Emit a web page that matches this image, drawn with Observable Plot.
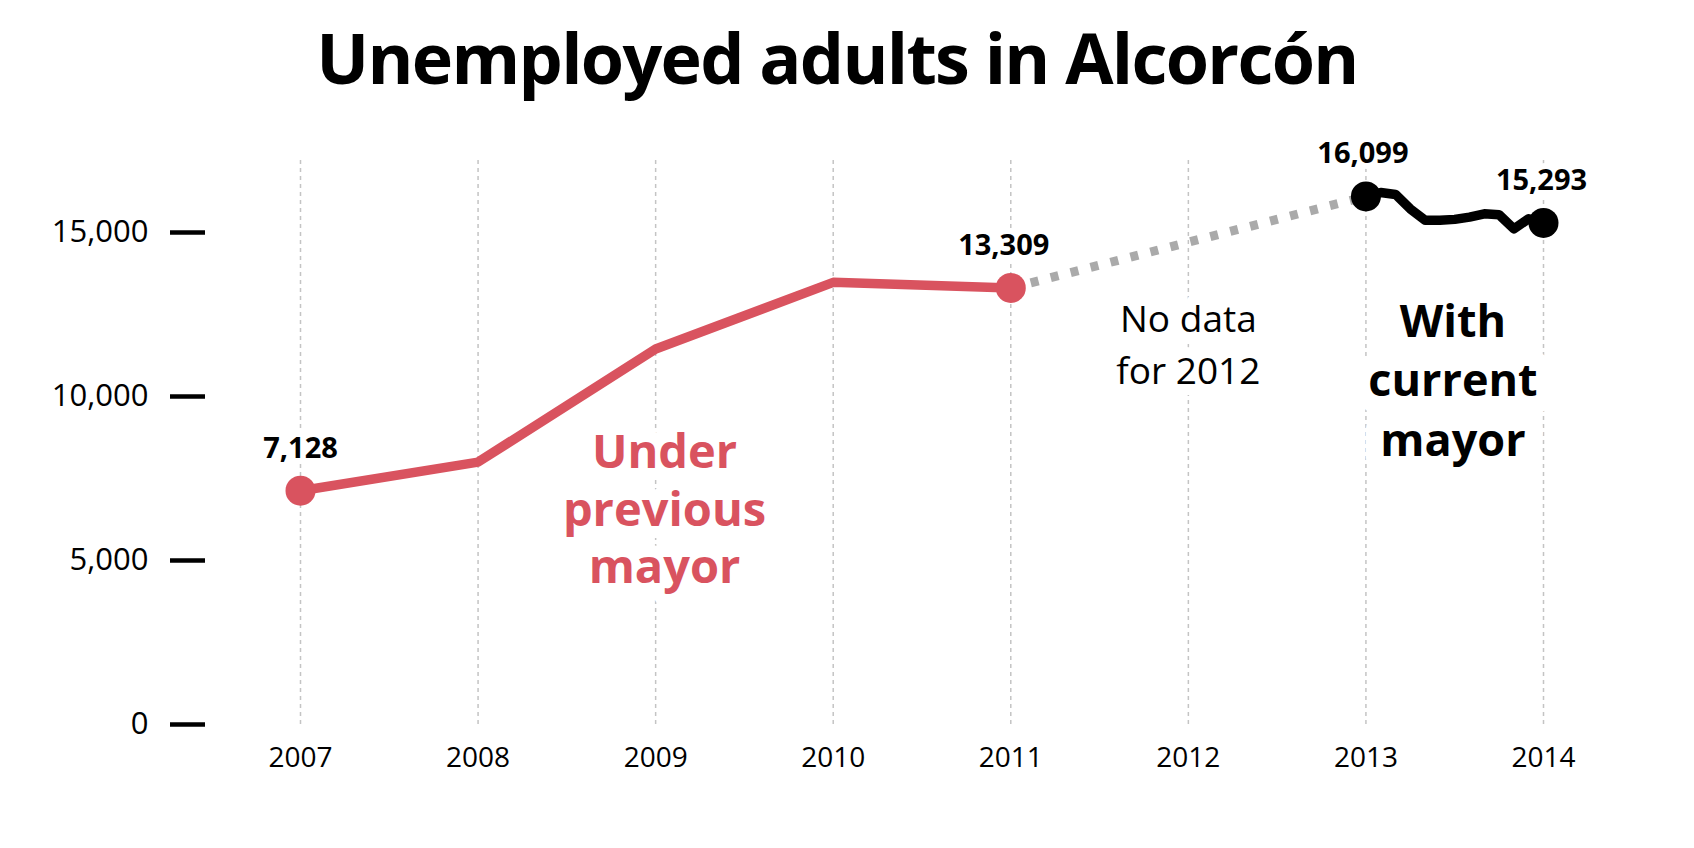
<!DOCTYPE html>
<html>
<head>
<meta charset="utf-8">
<script src="https://cdn.jsdelivr.net/npm/d3@7"></script>
<script src="https://cdn.jsdelivr.net/npm/@observablehq/plot@0.6"></script>
<style>
  body { margin: 0; background: #fff; font-family: "Open Sans", sans-serif; }
  #title {
    height: 120px; box-sizing: border-box; padding-top: 22px; width: 1674px;
    text-align: center; font-size: 70px; line-height: 70px; font-weight: 700;
    letter-spacing: -1.7px; color: #000; white-space: nowrap;
  }
</style>
</head>
<body>
<div id="title">Unemployed adults in Alcorcón</div>
<div id="chart"></div>
<script>
// ---- data ----
const yearTicks = [2007, 2008, 2009, 2010, 2011, 2012, 2013, 2014];
const yTicks = [0, 5000, 10000, 15000];

// Under previous mayor (yearly)
const previousYears = [2007, 2008, 2009, 2010, 2011];
const previousValues = [7128, 8000, 11450, 13480, 13309];

// With current mayor (monthly, Jan 2013 .. Jan 2014)
const currentMonths = [0, 1, 2, 3, 4, 5, 6, 7, 8, 9, 10, 11, 12];
const currentValues = [16099, 16220, 16160, 15720, 15370, 15370, 15400, 15470, 15570, 15540, 15110, 15420, 15293];

const annotationPrevious = "Under\nprevious\nmayor";
const annotationNoData = "No data\nfor 2012";
const annotationCurrent = "With\ncurrent\nmayor";

// ---- derived tables ----
const previous = previousYears.map((x, i) => ({x, y: previousValues[i]}));
const current = currentMonths.map((m, i) => ({x: 2013 + m / 12, y: currentValues[i]}));
const gap = [previous[previous.length - 1], current[0]];
const redStart = [previous[0]];
const redEnd = [previous[previous.length - 1]];
const blackStart = [current[0]];
const blackEnd = [current[current.length - 1]];
const fmt = d3.format(",");

const red = "#d9535f";
const labelStyle = {x: "x", y: "y", text: d => fmt(d.y), lineAnchor: "bottom", dy: -33,
  fontSize: 29, fontWeight: 700, fill: "black", stroke: "white", strokeWidth: 12, strokeLinejoin: "round"};

const chart = Plot.plot({
  width: 1694,
  height: 728,
  marginTop: 112,
  marginBottom: 124,
  marginLeft: 300,
  marginRight: 151,
  style: {fontFamily: "Open Sans", background: "white", overflow: "visible", color: "black"},
  x: {domain: [2007, 2014], label: null},
  y: {domain: [0, 15000], label: null},
  marks: [
    Plot.ruleX(yearTicks, {x: d => d, y1: 0, y2: 17300, stroke: "#c4c4c4", strokeWidth: 1.5, strokeDasharray: "4,4"}),
    Plot.axisY({ticks: yTicks, tickSize: 35, dx: -95, tickFormat: () => "", stroke: "black", strokeWidth: 4.5}),
    Plot.axisY({ticks: yTicks, tickSize: 0, tickPadding: 0, dx: -152, tickFormat: fmt, fontSize: 31, fill: "black"}),
    Plot.axisX({ticks: yearTicks, tickSize: 0, tickPadding: 23, tickFormat: "d", fontSize: 28, fill: "black"}),

    // annotations
    Plot.text([annotationPrevious], {x: [2009.05], y: [4300], text: d => d, lineAnchor: "bottom", lineHeight: 1.23,
      fontSize: 47, fontWeight: 700, fill: red, stroke: "white", strokeWidth: 24, strokeLinejoin: "round"}),
    Plot.text([annotationNoData], {x: [2012], y: [10390], text: d => d, lineAnchor: "bottom", lineHeight: 1.4,
      fontSize: 37, fontWeight: 400, fill: "black", stroke: "white", strokeWidth: 22, strokeLinejoin: "round"}),
    Plot.text([annotationCurrent], {x: [2013.49], y: [8200], text: d => d, lineAnchor: "bottom", lineHeight: 1.32,
      fontSize: 45, fontWeight: 700, fill: "black", stroke: "white", strokeWidth: 36, strokeLinejoin: "round"}),

    // value labels
    Plot.text(redStart, {...labelStyle}),
    Plot.text(redEnd, {...labelStyle, dx: -7}),
    Plot.text(blackStart, {...labelStyle, dx: -3}),
    Plot.text(blackEnd, {...labelStyle, dx: -2}),

    // lines
    Plot.line(gap, {x: "x", y: "y", stroke: "#aaaaaa", strokeWidth: 9, strokeDasharray: "8,12.6", strokeLinecap: "butt"}),
    Plot.line(previous, {x: "x", y: "y", stroke: red, strokeWidth: 9.5, strokeLinejoin: "round", strokeLinecap: "round"}),
    Plot.line(current, {x: "x", y: "y", stroke: "black", strokeWidth: 9.5, strokeLinejoin: "round", strokeLinecap: "round"}),

    // end dots
    Plot.dot([...redStart, ...redEnd], {x: "x", y: "y", r: 15, fill: red}),
    Plot.dot([...blackStart, ...blackEnd], {x: "x", y: "y", r: 15, fill: "black"})
  ]
});
document.getElementById("chart").appendChild(chart);
</script>
</body>
</html>
